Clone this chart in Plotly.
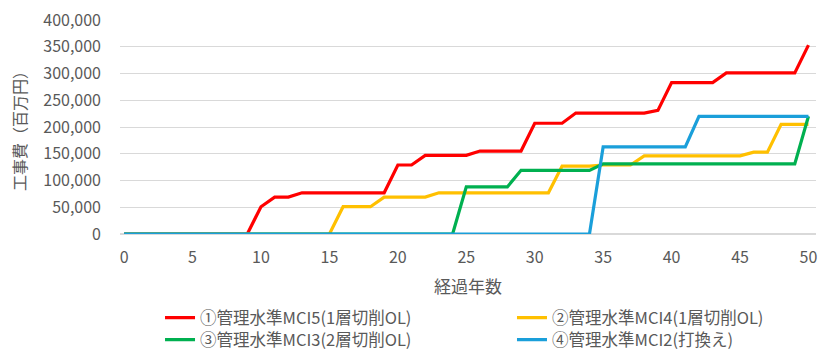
import plotly.graph_objects as go

# 経過年数 0〜50年
years = list(range(51))

# 累積工事費（百万円）
mci5_1layer = ([0] * 10 + [51000] + [69000] * 2 + [77000] * 7 + [129000] * 2
               + [147000] * 4 + [155000] * 4 + [207000] * 3 + [226000] * 6
               + [231000] + [283000] * 4 + [301000] * 6 + [353000])
mci4_1layer = ([0] * 16 + [51000] * 3 + [69000] * 4 + [77000] * 9 + [127000] * 3
               + [129000] * 3 + [146000] * 8 + [153000] * 2 + [205000] * 3)
mci3_2layer = [0] * 25 + [88000] * 4 + [119000] * 6 + [131000] * 15 + [220000]
mci2_replace = [0] * 35 + [163000] * 7 + [220000] * 9

series_names = [
    "①管理水準MCI5(1層切削OL)",
    "②管理水準MCI4(1層切削OL)",
    "③管理水準MCI3(2層切削OL)",
    "④管理水準MCI2(打換え)",
]
series_values = [mci5_1layer, mci4_1layer, mci3_2layer, mci2_replace]
series_colors = ["#FF0000", "#FFC000", "#00B050", "#1A9FDA"]
legend_ids = ["legend", "legend2", "legend3", "legend4"]

x_ticks = list(range(0, 51, 5))
y_ticks = list(range(0, 400001, 50000))

FONT = "Noto Sans CJK JP"
TEXT = "#595959"
GRID = "#D9D9D9"

fig = go.Figure()
for name, vals, color, lg in zip(series_names, series_values, series_colors, legend_ids):
    fig.add_trace(go.Scatter(
        x=years, y=vals, name=name, mode="lines",
        line=dict(color=color, width=3.2),
        legend=lg,
    ))

# 2列×2行の凡例（各項目を個別に配置）
col_x = [0.0575, 0.5632]
row_y = [-0.392, -0.495]
legend_pos = {
    "legend": (col_x[0], row_y[0]),
    "legend2": (col_x[1], row_y[0]),
    "legend3": (col_x[0], row_y[1]),
    "legend4": (col_x[1], row_y[1]),
}
legend_layout = {}
for lg, (lx, ly) in legend_pos.items():
    legend_layout[lg] = dict(
        x=lx, y=ly, xanchor="left", yanchor="middle",
        orientation="v", bgcolor="rgba(0,0,0,0)",
        font=dict(family=FONT, size=16.5, color=TEXT),
        itemclick=False, itemdoubleclick=False,
    )

fig.update_layout(
    width=818, height=352,
    margin=dict(l=120, r=2, t=20, b=118, autoexpand=False),
    paper_bgcolor="white", plot_bgcolor="white",
    font=dict(family=FONT, color=TEXT, size=16),
    showlegend=True,
    **legend_layout,
    xaxis=dict(
        range=[-0.3, 50.55], tickvals=x_ticks,
        showgrid=False, zeroline=False, showline=False,
        ticks="", ticklabelstandoff=12, ticklabeloverflow="allow",
        tickfont=dict(family=FONT, size=16, color=TEXT),
        title=dict(text="経過年数", font=dict(family=FONT, size=17, color=TEXT), standoff=14),
        fixedrange=True,
    ),
    yaxis=dict(
        range=[0, 400000], tickvals=y_ticks, tickformat=",",
        showgrid=True, gridcolor=GRID, gridwidth=1,
        zeroline=True, zerolinecolor=GRID, zerolinewidth=1.5,
        showline=False, ticks="", ticklabelstandoff=18,
        tickfont=dict(family=FONT, size=16, color=TEXT),
        title=dict(text="工事費（百万円）", font=dict(family=FONT, size=16, color=TEXT), standoff=12),
        fixedrange=True,
    ),
)

fig.write_html("out.html", config={"displayModeBar": False})
